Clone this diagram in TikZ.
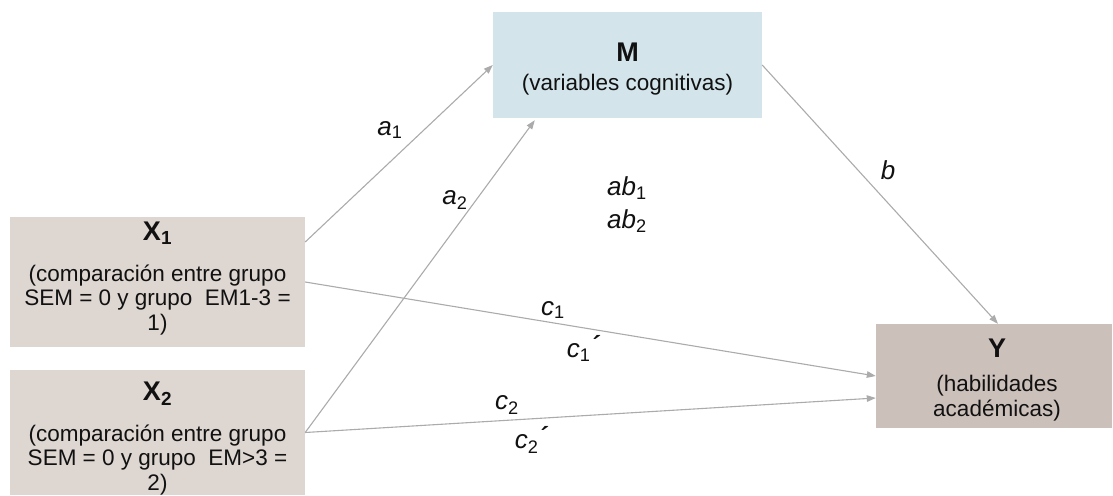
\documentclass[tikz,border=0pt]{standalone}
\usepackage{fontspec}
\setmainfont{Liberation Sans}
\usetikzlibrary{arrows.meta}
\definecolor{xboxc}{HTML}{DDD6D1}
\definecolor{mboxc}{HTML}{D3E5EB}
\definecolor{yboxc}{HTML}{CCC0BA}
\definecolor{connc}{HTML}{ABABAB}
\definecolor{txtc}{HTML}{111111}
\begin{document}
\begin{tikzpicture}[x=1pt,y=-1pt,
  boxn/.style={draw=none,inner sep=0pt,minimum width=#1},
  titletxt/.style={text=txtc,inner sep=0pt,font=\fontsize{27}{30}\selectfont\bfseries},
  bodytxt/.style={text=txtc,inner sep=0pt,align=center,font=\fontsize{22.5}{24.5}\selectfont},
  lbl/.style={text=txtc,inner sep=0pt,font=\fontsize{26}{28}\selectfont\itshape},
  conn/.style={draw=connc,line width=1.1pt,-{Triangle[length=9pt,width=6.5pt]}}]
\useasboundingbox (0,0) rectangle (1113,495);
% boxes
\node[boxn=295pt,minimum height=130pt,fill=xboxc] (x1) at (157.5,282) {};
\node[boxn=295pt,minimum height=125pt,fill=xboxc] (x2) at (157.5,432.5) {};
\node[boxn=269pt,minimum height=106pt,fill=mboxc] (m) at (627.5,65) {};
\node[boxn=236pt,minimum height=104pt,fill=yboxc] (y) at (994,376) {};
% texts
\node[titletxt] (x1t) at (157.5,233) {X\textsubscript{1}};
\node[bodytxt] (x1b) at (157.5,300) {(comparación entre grupo\\SEM = 0 y grupo\ \ EM1-3 =\\1)};
\node[titletxt] (x2t) at (157.5,394) {X\textsubscript{2}};
\node[bodytxt] (x2b) at (157.5,460) {(comparación entre grupo\\SEM = 0 y grupo\ \ EM>3 =\\2)};
\node[titletxt] (mt) at (627.5,52) {M};
\node[bodytxt] (mb) at (627.5,85) {(variables cognitivas)};
\node[titletxt] (yt) at (997,348) {Y};
\node[bodytxt] (yb) at (997,398) {(habilidades\\académicas)};
% connectors
\draw[conn] ([yshift=40pt]x1.east) -- (m.west);
\draw[conn] (x2.east) -- ([xshift=42pt,yshift=-2pt]m.south west);
\draw[conn] (m.east) -- ([xshift=4pt]y.north);
\draw[conn] (x1.east) -- (y.west);
\draw[conn] (x2.east) -- ([yshift=-22pt]y.west);
% labels
\node[lbl] (la1) at (390,130) {a\textsubscript{\upshape 1}};
\node[lbl] (la2) at (455,200) {a\textsubscript{\upshape 2}};
\node[lbl] (lab1) at (627,188) {ab\textsubscript{\upshape 1}};
\node[lbl] (lab2) at (627,221) {ab\textsubscript{\upshape 2}};
\node[lbl] (lb) at (888,170) {b};
\node[lbl] (lc1) at (553,310) {c\textsubscript{\upshape 1}};
\node[lbl] (lc1p) at (583,348) {c\textsubscript{\upshape 1}\raisebox{3pt}{\bfseries ´}};
\node[lbl] (lc2) at (507,405) {c\textsubscript{\upshape 2}};
\node[lbl] (lc2p) at (531,440) {c\textsubscript{\upshape 2}\raisebox{3pt}{\bfseries ´}};
\end{tikzpicture}
\end{document}
